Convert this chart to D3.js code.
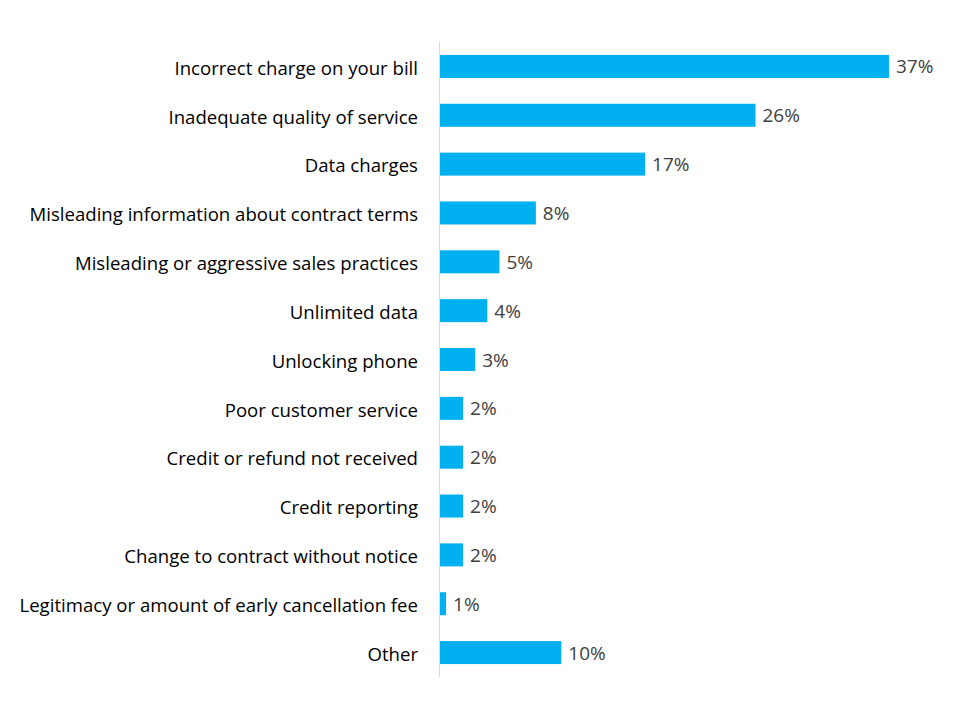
<!DOCTYPE html>
<html>
<head>
<meta charset="utf-8">
<script src="https://cdn.jsdelivr.net/npm/d3@7"></script>
<style>
html,body{margin:0;padding:0;background:#fff;}
svg{display:block;}
</style>
</head>
<body>
<svg id="chart" width="960" height="720"></svg>
<script>
const categories = [
  "Incorrect charge on your bill",
  "Inadequate quality of service",
  "Data charges",
  "Misleading information about contract terms",
  "Misleading or aggressive sales practices",
  "Unlimited data",
  "Unlocking phone",
  "Poor customer service",
  "Credit or refund not received",
  "Credit reporting",
  "Change to contract without notice",
  "Legitimacy or amount of early cancellation fee",
  "Other"
];
const values = [37, 26, 16.9, 7.9, 4.9, 3.9, 2.9, 1.9, 1.9, 1.9, 1.9, 0.5, 10];
const valueLabels = ["37%","26%","17%","8%","5%","4%","3%","2%","2%","2%","2%","1%","10%"];

const svg = d3.select("#chart");
const x0 = 440;
const x = d3.scaleLinear().domain([0, 37]).range([x0, 889]);
const y = d3.scaleBand().domain(categories).range([42, 677]).paddingInner(0.529).paddingOuter(0.2645);

const fontFam = "'Open Sans', sans-serif";

svg.selectAll("rect.bar").data(categories).join("rect")
  .attr("class","bar")
  .attr("x", x(0))
  .attr("y", d => y(d))
  .attr("width", (d,i) => x(values[i]) - x(0))
  .attr("height", y.bandwidth())
  .attr("fill", "#00b0f0");

svg.append("line")
  .attr("x1", x0 - 0.5).attr("x2", x0 - 0.5)
  .attr("y1", 42).attr("y2", 677)
  .attr("stroke", "#d9d9d9").attr("stroke-width", 1);

svg.selectAll("text.cat").data(categories).join("text")
  .attr("class","cat")
  .attr("x", 418)
  .attr("y", d => y(d) + y.bandwidth()/2 + 8.3)
  .attr("text-anchor","end")
  .attr("font-family", fontFam)
  .attr("font-size", 18.6)
  .attr("fill", "#000")
  .text(d => d);

svg.selectAll("text.val").data(categories).join("text")
  .attr("class","val")
  .attr("x", (d,i) => x(values[i]) + 7)
  .attr("y", d => y(d) + y.bandwidth()/2 + 7)
  .attr("font-family", fontFam)
  .attr("font-size", 19)
  .attr("fill", "#404040")
  .text((d,i) => valueLabels[i]);
</script>
</body>
</html>
